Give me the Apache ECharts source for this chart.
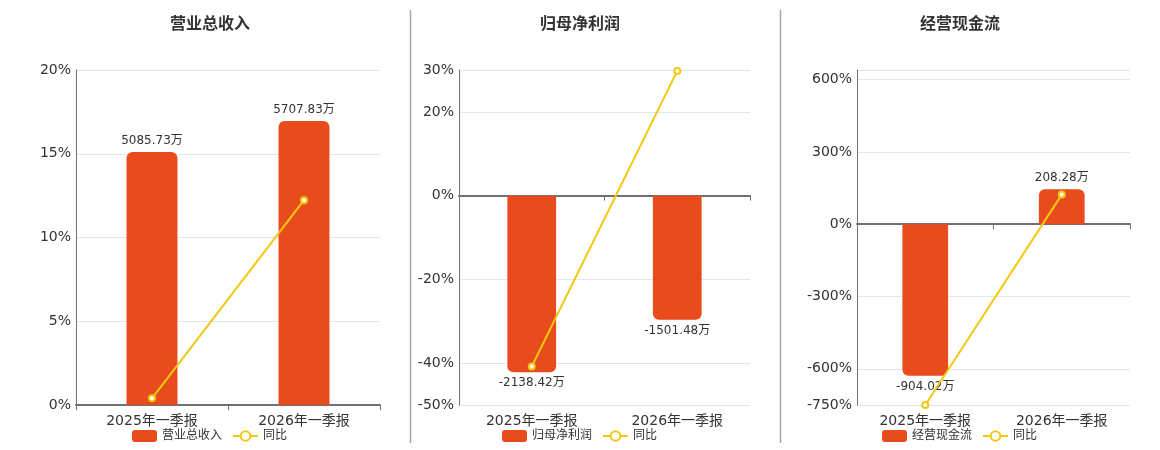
<!DOCTYPE html>
<html><head><meta charset="utf-8">
<script src="https://cdn.jsdelivr.net/npm/echarts@6/dist/echarts.min.js"></script>
<style>html,body{margin:0;padding:0;background:#fff}#c{width:1160px;height:450px}</style>
</head><body><div id="c"></div>
<script>
const categories = ['2025年一季报', '2026年一季报'];
const titles = ['营业总收入', '归母净利润', '经营现金流'];
const revenue = [5085.73, 5707.83];
const revenueYoy = [0.4, 12.23];
const profit = [-2138.42, -1501.48];
const profitYoy = [-40.8, 29.79];
const cash = [-904.02, 208.28];
const cashYoy = [-750, 123.04];
const pctMin = [0, -50, -750];
const pctMax = [20, 30, 640];
const pctSplit = [4, 4, 5];
const barMin = [0, -2535, -1078];
const barMax = [6732, 1521, 920];

const barColor = '#E84B1C';
const lineColor = '#F2C811';
const grids = [
  {left: 76, top: 70, width: 304, height: 335},
  {left: 459, top: 70, width: 291, height: 335},
  {left: 857, top: 70, width: 273, height: 335}
];
const centers = [210, 580, 960];
const barData = [revenue, profit, cash];
const yoyData = [revenueYoy, profitYoy, cashYoy];

const option = {
  animation: false,
  textStyle: {fontFamily: 'DejaVu Sans, "Noto Sans CJK SC", sans-serif'},
  title: [], grid: grids, xAxis: [], yAxis: [], series: [], legend: [],
  graphic: [
    {type: 'line', shape: {x1: 410.5, y1: 10, x2: 410.5, y2: 443}, style: {stroke: '#a9a9a4', lineWidth: 1.5}},
    {type: 'line', shape: {x1: 780.5, y1: 10, x2: 780.5, y2: 443}, style: {stroke: '#a9a9a4', lineWidth: 1.5}}
  ]
};

for (let i = 0; i < 3; i++) {
  option.title.push({text: titles[i], left: centers[i] - 5, top: 12, textAlign: 'center',
    textStyle: {fontSize: 16, fontWeight: 'bold', color: '#333'}});
  option.legend.push({data: [titles[i], '同比'], left: centers[i] - 83, top: 425,
    itemWidth: 25, itemHeight: 12, itemGap: 10,
    textStyle: {fontSize: 12, color: '#333'}});
  // label axis at bottom
  option.xAxis.push({type: 'category', gridIndex: i, position: 'bottom', data: categories,
    axisLine: {show: false, onZero: false}, axisTick: {show: false},
    axisLabel: {fontSize: 14, color: '#333', margin: 9}});
  // zero line axis
  option.xAxis.push({type: 'category', gridIndex: i, position: 'bottom', data: categories,
    axisLine: {show: true, onZero: true, lineStyle: {color: '#6E7079', width: 2}},
    axisTick: {show: true, length: 5, lineStyle: {color: '#6E7079'}},
    axisLabel: {show: false}});
  option.yAxis.push({type: 'value', gridIndex: i, position: 'left', min: pctMin[i], max: pctMax[i], splitNumber: pctSplit[i],
    axisLine: {show: true, lineStyle: {color: '#6E7079'}}, axisTick: {show: false},
    axisLabel: {formatter: '{value}%', fontSize: 14, color: '#333', margin: 5,
      showMinLabel: true, showMaxLabel: i !== 2},
    splitLine: {lineStyle: {color: '#E0E6F1'}}});
  option.yAxis.push({type: 'value', gridIndex: i, min: barMin[i], max: barMax[i], show: false,
    splitLine: {show: false}});
  option.series.push({
    name: titles[i], type: 'bar', xAxisIndex: 2 * i + 1, yAxisIndex: 2 * i + 1,
    barWidth: '33.5%',
    itemStyle: {color: barColor},
    data: barData[i].map(v => ({
      value: v,
      itemStyle: {borderRadius: v >= 0 ? [6, 6, 0, 0] : [0, 0, 6, 6]},
      label: {position: v >= 0 ? 'top' : 'bottom'}
    })),
    label: {show: true, fontSize: 12, color: '#333', distance: 5,
      formatter: p => p.value + '万'}
  });
  option.series.push({
    name: '同比', type: 'line', xAxisIndex: 2 * i + 1, yAxisIndex: 2 * i,
    data: yoyData[i], symbol: 'emptyCircle', symbolSize: 6,
    lineStyle: {color: lineColor, width: 2},
    itemStyle: {color: lineColor, borderWidth: 1.5},
    z: 5
  });
}

const chart = echarts.init(document.getElementById('c'));
chart.setOption(option);
</script></body></html>
